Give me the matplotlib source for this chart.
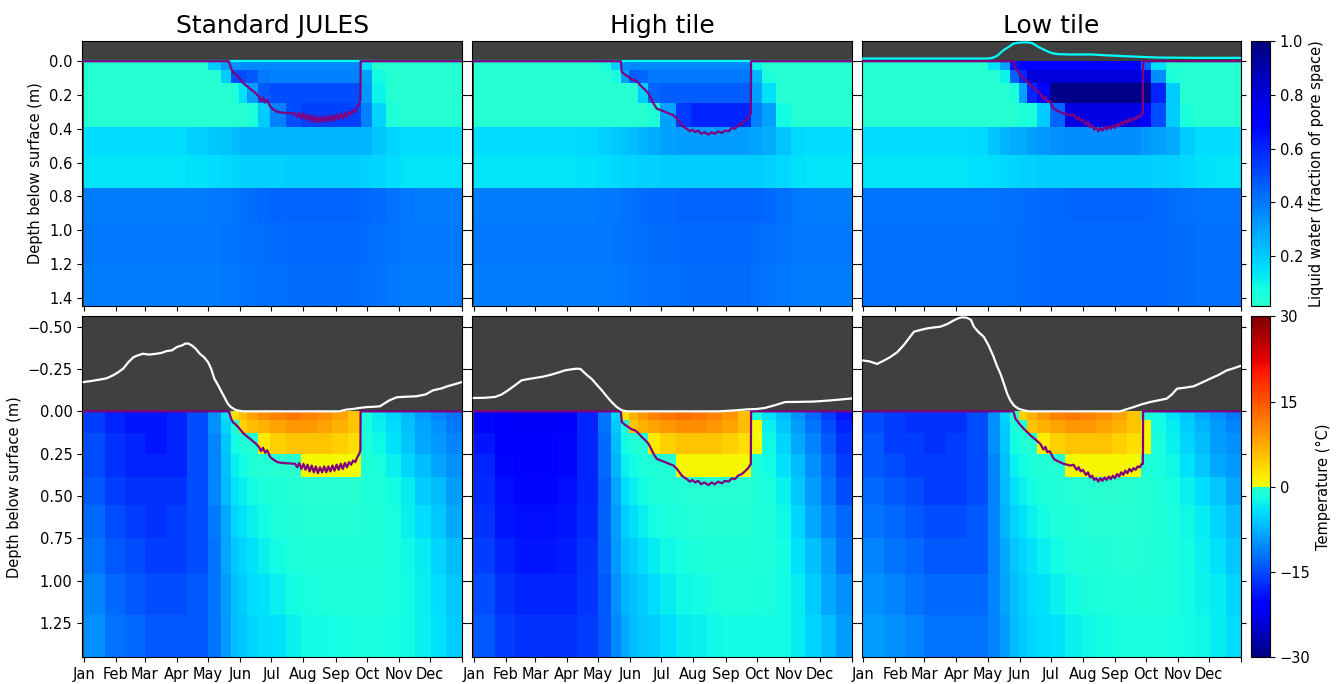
import numpy as np
import matplotlib
matplotlib.use("Agg")
import matplotlib.pyplot as plt
from matplotlib.colors import ListedColormap

# ---------------- data ----------------
TITLES = ["Standard JULES", "High tile", "Low tile"]
MONTH_DAYS = [0, 31, 59, 90, 120, 151, 181, 212, 243, 273, 304, 334, 365]
MONTH_LABELS = ["Jan", "Feb", "Mar", "Apr", "May", "Jun", "Jul", "Aug", "Sep", "Oct", "Nov", "Dec", ""]

# soil layer boundaries (m below surface)
LAYER_EDGES = [0.0, 0.05, 0.13, 0.25, 0.39, 0.555, 0.75, 0.96, 1.2, 1.45]
# time column boundaries (day of year)
DAY_EDGES = [0, 20, 40, 59, 80, 100, 120, 132, 142, 150, 158, 168, 180, 195, 210, 225,
             240, 255, 268, 278, 292, 306, 320, 335, 350, 365]

# liquid water (fraction of pore space), rows = layers, columns = time blocks
water_std = [
    [.02, .02, .02, .02, .02, .02, .20, .30, .34, .36, .36, .36, .36, .36, .36, .36, .36, .36, .16, .03, .02, .02, .02, .02, .02],
    [.02, .02, .02, .02, .02, .02, .02, .20, .50, .50, .48, .40, .38, .38, .38, .38, .38, .38, .30, .08, .02, .02, .02, .02, .02],
    [.02, .02, .02, .02, .02, .02, .02, .02, .04, .15, .31, .48, .50, .50, .50, .50, .50, .50, .32, .10, .02, .02, .02, .02, .02],
    [.02, .02, .02, .02, .02, .02, .02, .02, .02, .03, .05, .20, .38, .50, .53, .53, .53, .53, .38, .18, .04, .02, .02, .02, .02],
    [.16, .16, .16, .16, .16, .19, .21, .22, .24, .25, .25, .25, .26, .26, .26, .26, .26, .26, .25, .22, .18, .16, .16, .16, .16],
    [.14, .14, .14, .14, .14, .15, .16, .17, .18, .19, .19, .19, .19, .20, .20, .20, .20, .20, .19, .18, .16, .14, .14, .14, .14],
    [.39, .39, .39, .39, .39, .39, .40, .40, .41, .42, .43, .44, .45, .45, .45, .45, .45, .45, .44, .43, .41, .40, .39, .39, .39],
    [.40, .40, .40, .40, .40, .40, .40, .41, .41, .42, .42, .43, .43, .44, .44, .44, .44, .44, .43, .42, .41, .40, .40, .40, .40],
    [.39, .39, .39, .39, .39, .39, .39, .40, .40, .41, .41, .42, .42, .43, .43, .43, .43, .43, .42, .41, .40, .39, .39, .39, .39],
]
water_high = [
    [.02, .02, .02, .02, .02, .02, .05, .19, .34, .36, .36, .36, .36, .36, .36, .36, .36, .36, .10, .02, .02, .02, .02, .02, .02],
    [.02, .02, .02, .02, .02, .02, .02, .06, .30, .47, .45, .40, .40, .40, .40, .40, .40, .40, .25, .05, .02, .02, .02, .02, .02],
    [.02, .02, .02, .02, .02, .02, .02, .02, .02, .03, .20, .45, .47, .47, .47, .47, .47, .47, .30, .15, .02, .02, .02, .02, .02],
    [.02, .02, .02, .02, .02, .02, .02, .02, .02, .02, .02, .04, .30, .55, .60, .60, .60, .60, .38, .30, .08, .02, .02, .02, .02],
    [.16, .16, .16, .16, .16, .17, .19, .20, .22, .24, .26, .28, .30, .31, .31, .31, .31, .31, .29, .27, .22, .17, .16, .16, .16],
    [.14, .14, .14, .14, .14, .15, .16, .17, .18, .18, .19, .19, .20, .20, .20, .20, .20, .20, .20, .19, .17, .15, .14, .14, .14],
    [.39, .39, .39, .39, .39, .39, .40, .40, .41, .42, .43, .44, .44, .45, .45, .45, .45, .45, .45, .44, .42, .40, .39, .39, .39],
    [.40, .40, .40, .40, .40, .40, .40, .41, .41, .42, .42, .43, .43, .44, .44, .44, .44, .44, .43, .42, .41, .40, .40, .40, .40],
    [.39, .39, .39, .39, .39, .39, .39, .40, .40, .41, .41, .42, .42, .43, .43, .43, .43, .43, .42, .41, .40, .39, .39, .39, .39],
]
water_low = [
    [.02, .02, .02, .02, .02, .02, .15, .30, .65, .72, .72, .72, .72, .72, .72, .72, .72, .72, .45, .15, .03, .02, .02, .02, .02],
    [.02, .02, .02, .02, .02, .02, .02, .10, .45, .60, .80, .80, .80, .80, .80, .80, .80, .80, .78, .35, .05, .02, .02, .02, .02],
    [.02, .02, .02, .02, .02, .02, .02, .02, .05, .30, .60, .70, .98, .98, .98, .98, .98, .98, .98, .60, .20, .03, .02, .02, .02],
    [.02, .02, .02, .02, .02, .02, .02, .02, .02, .05, .05, .20, .45, .78, .78, .78, .78, .78, .70, .50, .20, .05, .02, .02, .02],
    [.16, .16, .16, .16, .16, .17, .22, .25, .27, .28, .30, .32, .34, .35, .35, .35, .35, .35, .32, .30, .27, .20, .16, .16, .16],
    [.14, .14, .14, .14, .14, .15, .16, .17, .18, .19, .19, .20, .20, .20, .20, .20, .20, .20, .20, .19, .19, .17, .15, .14, .14],
    [.41, .41, .41, .41, .41, .41, .41, .42, .42, .43, .43, .44, .44, .45, .45, .45, .45, .45, .45, .44, .43, .42, .41, .41, .41],
    [.42, .42, .42, .42, .42, .42, .42, .42, .43, .43, .43, .44, .44, .44, .44, .44, .44, .44, .44, .44, .43, .43, .42, .42, .42],
    [.42, .42, .42, .42, .42, .42, .42, .42, .43, .43, .43, .44, .44, .44, .44, .44, .44, .44, .44, .44, .43, .43, .42, .42, .42],
]

# soil temperature (deg C), rows = layers, columns = time blocks
temp_std = [
    [-16, -18, -19, -19, -18, -15, -10, -4, 3, 6, 8, 10, 11, 12, 11, 10, 8, 5, -1.5, -3.5, -5, -7, -9, -11, -12],
    [-16, -18, -19, -19, -18, -15, -10, -5, -1, 4, 6, 7, 8, 9, 9, 8, 7, 5, -1.5, -3, -4.5, -6.5, -8.5, -10, -11.5],
    [-15, -17, -18, -19, -18, -15, -11, -6, -2, -1, -0.5, 2, 4, 5, 5, 5, 4, 3, -1.2, -2.5, -4, -6, -8, -9.5, -11],
    [-15, -17, -18, -18, -18, -15, -11, -6.5, -3, -2, -1, -0.6, -0.4, -0.2, 0.5, 0.5, 0.5, 0.3, -0.8, -1.5, -3, -5, -7, -8.5, -10],
    [-14, -16, -17, -17, -17, -15, -11, -7, -4, -3, -2, -1.2, -0.8, -0.5, -0.3, -0.3, -0.3, -0.4, -0.8, -1.2, -2, -3.5, -5.5, -7, -9],
    [-13, -15, -16, -17, -16, -15, -11.5, -8, -5, -4, -3, -2, -1.3, -0.9, -0.6, -0.5, -0.5, -0.5, -0.8, -1, -1.8, -3, -4.5, -6, -8],
    [-12, -14, -15, -16, -16, -15, -12, -8.5, -6, -5, -4, -3, -2, -1.4, -1, -0.8, -0.8, -0.8, -0.9, -1, -1.5, -2.5, -3.5, -5, -7],
    [-11, -13, -14, -15, -15, -14, -12, -9, -6.5, -5.5, -4.5, -4, -3, -2, -1.5, -1.3, -1.2, -1.2, -1.2, -1.3, -1.6, -2.2, -3, -4.5, -6],
    [-10, -12, -13, -14, -14, -14, -12, -9.5, -7, -6, -5, -4.5, -4, -3, -2.2, -2, -1.8, -1.7, -1.6, -1.6, -1.8, -2.2, -3, -4, -5.5],
]
temp_high = [
    [-20, -21.5, -22, -22, -21, -18, -12, -5, 3, 7, 9, 11, 12, 13, 12, 11, 9, 6, -1.5, -4, -7, -10, -13, -16, -19],
    [-20, -21.5, -22, -22, -21, -18, -12, -6, -1, 5, 7, 8, 9, 10, 10, 9, 8, 6, 1, -3, -6, -9, -12, -15, -18],
    [-19, -21, -21, -21, -20, -18, -13, -7, -2, -1, -0.5, 2, 4, 5, 5, 5, 4, 3, 0.5, -2.5, -5, -8, -11, -14, -17],
    [-18, -20, -21, -21, -20, -18, -13, -7.5, -3, -2, -1.2, -0.8, -0.5, 0.8, 1, 1, 1, 0.6, -1, -2, -4, -7, -10, -13, -16],
    [-17.5, -19.5, -20, -20, -19.5, -18, -13.5, -8.5, -4.5, -3, -2, -1.3, -0.8, -0.5, -0.3, -0.3, -0.3, -0.4, -0.8, -1.5, -3, -6, -9, -12, -15],
    [-17, -19, -19.5, -19.5, -19, -17.5, -13.5, -9, -5.5, -4.5, -3, -2, -1.5, -1, -0.6, -0.5, -0.5, -0.6, -0.8, -1.2, -2.5, -5, -8, -11, -13],
    [-16, -18, -19, -19, -18.5, -17, -13.5, -9.5, -6.5, -5.5, -4.5, -3.5, -2.5, -1.8, -1.2, -1, -0.9, -0.9, -1, -1.2, -2, -4, -6.5, -9, -12],
    [-15, -17, -18, -18, -18, -16.5, -14, -10, -7.5, -6.5, -5.5, -4.5, -3.5, -2.5, -2, -1.6, -1.4, -1.3, -1.3, -1.5, -2, -3.5, -5.5, -8, -10],
    [-14, -16, -17, -17, -17, -16, -14, -10.5, -8, -7, -6, -5.5, -4.5, -3.5, -3, -2.5, -2.2, -2, -1.9, -2, -2.3, -3.5, -5, -7, -9],
]
temp_low = [
    [-15, -16, -17, -17, -17, -15, -10, -5, -0.5, 4, 7, 9, 11, 12, 11, 10, 8, 5, -0.5, -2, -4, -6, -8, -10, -11.5],
    [-15, -16, -17, -17, -17, -15, -10, -5.5, -1.5, -0.5, 5, 7, 8, 9, 9, 8, 7, 5, 1, -2, -3.5, -5.5, -7.5, -9.5, -11],
    [-14, -16, -16, -17, -16, -15, -10, -6, -2, -1, -0.7, 1.5, 4, 5, 5, 5, 4, 3, 0.5, -1.5, -3, -5, -7, -9, -10],
    [-14, -15, -16, -16, -16, -15, -11, -6.5, -3, -2, -1.2, -0.8, -0.5, 0.5, 1, 1, 1, 0.6, -0.8, -1.5, -2.5, -4, -6, -8, -9.5],
    [-13, -14, -15, -16, -16, -15, -11, -7, -4, -3, -2, -1.2, -0.8, -0.5, -0.3, -0.2, -0.2, -0.3, -0.6, -1, -1.8, -3, -4.5, -6, -8],
    [-12, -13, -14, -15, -15, -14, -11, -7.5, -5, -4, -3, -2, -1.3, -0.9, -0.6, -0.4, -0.4, -0.5, -0.7, -0.9, -1.5, -2.5, -3.5, -5, -7],
    [-11, -12, -13, -14, -14, -14, -11, -8, -6, -5, -4, -3, -2, -1.4, -1, -0.8, -0.7, -0.7, -0.8, -1, -1.3, -2, -3, -4, -6],
    [-10, -11, -12, -13, -13, -13, -11, -8.5, -6.5, -5.5, -4.5, -4, -3, -2.2, -1.6, -1.3, -1.2, -1.1, -1.1, -1.2, -1.4, -2, -2.6, -3.5, -5],
    [-9, -10, -11, -12, -12, -12, -11, -9, -7, -6, -5, -4.5, -4, -3, -2.4, -2, -1.8, -1.6, -1.5, -1.5, -1.7, -2, -2.5, -3.3, -4.5],
]

# thaw depth (m)
thaw_std_day = [0, 140, 142, 144, 147, 150, 154, 158, 162, 166, 169, 171, 173, 175, 177, 180, 183, 187, 192, 198,
                204, 206, 208, 210, 212, 214, 216, 218, 220, 222, 224, 226, 228, 230, 232, 234, 236, 238, 240, 242,
                244, 246, 248, 250, 252, 254, 256, 258, 260, 262, 264, 266, 267, 267.2, 365]
thaw_std_depth = [0, 0, 0.04, 0.065, 0.08, 0.10, 0.13, 0.15, 0.17, 0.19, 0.21, 0.235, 0.215, 0.245, 0.23, 0.27, 0.285, 0.30, 0.305, 0.307,
                  0.31, 0.33, 0.305, 0.34, 0.31, 0.345, 0.315, 0.355, 0.32, 0.36, 0.325, 0.365, 0.33, 0.36, 0.325, 0.36, 0.325, 0.355, 0.32, 0.35,
                  0.315, 0.345, 0.31, 0.34, 0.305, 0.33, 0.30, 0.315, 0.29, 0.30, 0.27, 0.25, 0.23, 0, 0]
thaw_high_day = [0, 141.9, 142.8, 146, 149.3, 152, 155.7, 159, 162.2, 165.5, 168.6, 171, 173.5, 176.6, 180.5, 184.7, 188.5, 192.7, 196, 198.5,
                 200.8, 203, 205.6, 208.5, 211, 213.6, 216.5, 219.5, 222.5, 226.5, 229.5, 232.5, 236, 239.4, 242.5, 246, 249, 252, 255, 258.7,
                 261.5, 265, 267.4, 267.6, 365]
thaw_high_depth = [0, 0, 0.063, 0.08, 0.093, 0.105, 0.113, 0.13, 0.152, 0.17, 0.192, 0.22, 0.251, 0.281, 0.29, 0.30, 0.31, 0.32, 0.34, 0.36,
                   0.38, 0.39, 0.40, 0.415, 0.405, 0.42, 0.41, 0.43, 0.42, 0.435, 0.42, 0.43, 0.415, 0.425, 0.41, 0.415, 0.395, 0.40, 0.38, 0.37,
                   0.355, 0.334, 0.31, 0, 0]
thaw_low_day = [0, 145, 147, 151, 155, 158, 161.5, 166, 171, 174, 176, 177.6, 180, 184, 188, 193.6, 200, 203, 206, 208,
                210, 212, 215, 217, 219, 221, 223, 225, 227, 229, 231, 233, 235, 237, 239, 241, 243, 245, 247, 249,
                251, 253, 255, 257, 259, 261, 263, 265, 267, 269, 270, 270.2, 365]
thaw_low_depth = [0, 0, 0.044, 0.075, 0.103, 0.12, 0.142, 0.165, 0.192, 0.225, 0.21, 0.241, 0.235, 0.281, 0.295, 0.31, 0.32, 0.315, 0.345, 0.33,
                  0.355, 0.345, 0.375, 0.36, 0.39, 0.38, 0.405, 0.395, 0.415, 0.395, 0.41, 0.39, 0.405, 0.385, 0.40, 0.38, 0.395, 0.37, 0.385, 0.36,
                  0.375, 0.35, 0.365, 0.34, 0.355, 0.335, 0.345, 0.325, 0.33, 0.31, 0.31, 0, 0]

# snow depth (plotted as negative depth, m)
snow_std_day = [0, 8, 15, 22, 28, 33, 38, 43, 48, 52, 57, 63, 70, 75, 80, 85, 90, 95, 98, 101,
                104, 108, 112, 116, 120, 123, 126, 130, 133, 136, 139, 142, 146, 150, 154, 200, 247, 253, 260, 266,
                273, 280, 286, 291, 295, 302, 310, 321, 330, 337, 345, 352, 358, 365]
snow_std_depth = [-0.173, -0.18, -0.187, -0.195, -0.212, -0.23, -0.252, -0.29, -0.32, -0.33, -0.34, -0.335, -0.34, -0.345, -0.356, -0.36, -0.38, -0.39, -0.40, -0.40,
                  -0.39, -0.37, -0.34, -0.32, -0.29, -0.25, -0.193, -0.15, -0.114, -0.08, -0.045, -0.025, -0.01, -0.003, 0, 0, 0, -0.01, -0.014, -0.02,
                  -0.025, -0.027, -0.03, -0.05, -0.065, -0.083, -0.086, -0.089, -0.10, -0.124, -0.135, -0.15, -0.16, -0.173]
snow_high_day = [0, 10, 20.5, 27, 33, 40, 46, 52, 59, 67, 75, 82, 88, 94, 99.4, 103, 106, 110, 114, 119,
                 123.6, 128, 133, 138, 143, 148, 200, 237, 250, 265, 273, 281, 290, 300.5, 315, 329, 345, 363, 365]
snow_high_depth = [-0.079, -0.08, -0.085, -0.10, -0.124, -0.155, -0.183, -0.19, -0.197, -0.205, -0.217, -0.23, -0.242, -0.248, -0.252, -0.25, -0.232, -0.21, -0.19, -0.155,
                   -0.124, -0.09, -0.055, -0.025, -0.006, 0, 0, 0, -0.005, -0.012, -0.014, -0.02, -0.035, -0.055, -0.056, -0.058, -0.065, -0.075, -0.076]
snow_low_day = [0, 6, 13.5, 20, 26, 33, 39, 44, 49, 55, 62, 68, 74.6, 81, 87.5, 92, 95, 100, 104, 106.8,
                111, 116.4, 121, 126, 129, 132.5, 136, 139, 142, 145.4, 150, 155, 160, 200, 248, 254, 261, 268, 277, 285,
                293, 298, 303, 311, 319, 327, 335, 343, 351, 358, 365]
snow_low_depth = [-0.30, -0.295, -0.28, -0.30, -0.32, -0.35, -0.39, -0.43, -0.47, -0.48, -0.49, -0.495, -0.50, -0.515, -0.537, -0.55, -0.555, -0.553, -0.54, -0.50,
                  -0.47, -0.44, -0.39, -0.32, -0.27, -0.222, -0.16, -0.104, -0.065, -0.035, -0.015, -0.006, 0, 0, 0, -0.012, -0.025, -0.04, -0.055, -0.065,
                  -0.075, -0.10, -0.134, -0.14, -0.148, -0.17, -0.193, -0.215, -0.242, -0.255, -0.27]

# water table (negative = ponded above surface, m)
wt_std_day = [0, 365]
wt_std_depth = [0.0, 0.0]
wt_high_day = [0, 365]
wt_high_depth = [0.0, 0.0]
wt_low_day = [0, 120, 125, 130, 132.5, 136, 140.6, 145, 150, 155, 160, 163, 166, 169, 174, 179, 183, 188, 200, 220,
              235, 252, 268, 284, 320, 365]
wt_low_depth = [-0.016, -0.016, -0.02, -0.035, -0.05, -0.068, -0.085, -0.105, -0.11, -0.112, -0.111, -0.108, -0.097, -0.085, -0.07, -0.055, -0.047, -0.042, -0.04, -0.04,
                -0.035, -0.03, -0.026, -0.022, -0.02, -0.02]

# ---------------- figure ----------------
plt.rcParams["font.family"] = ["DejaVu Sans"]
fig = plt.figure(figsize=(13.44, 6.84), dpi=100)

jet = plt.get_cmap("jet")
water_cmap = ListedColormap(jet(np.linspace(0.4, 0.0, 256)))
temp_cmap = ListedColormap(np.vstack([jet(np.linspace(0.0, 0.4, 128)),
                                      jet(np.linspace(0.64, 1.0, 128))]))

panels = [
    (water_std, temp_std, thaw_std_day, thaw_std_depth, snow_std_day, snow_std_depth, wt_std_day, wt_std_depth),
    (water_high, temp_high, thaw_high_day, thaw_high_depth, snow_high_day, snow_high_depth, wt_high_day, wt_high_depth),
    (water_low, temp_low, thaw_low_day, thaw_low_depth, snow_low_day, snow_low_depth, wt_low_day, wt_low_depth),
]

col_x = [0.0612, 0.3514, 0.6411]
ax_w = 0.2825
top_y, top_h = 0.5526, 0.3875
bot_y, bot_h = 0.0395, 0.4978
GRAY = "#404040"
PURPLE = "#800080"
FS = 10.5

for i, (W, T, td, tz, sd, sz, wd, wz) in enumerate(panels):
    # --- liquid water panel ---
    ax = fig.add_axes([col_x[i], top_y, ax_w, top_h])
    ax.set_facecolor(GRAY)
    mw = ax.pcolormesh(DAY_EDGES, LAYER_EDGES, np.array(W), cmap=water_cmap,
                       vmin=0.015, vmax=1.0, shading="flat")
    ax.plot(wd, wz, color="cyan", lw=1.6, zorder=3)
    ax.plot(td, tz, color=PURPLE, lw=1.6, zorder=4)
    ax.set_xlim(-1.5, 365)
    ax.set_ylim(1.45, -0.12)
    ax.set_yticks([0.0, 0.2, 0.4, 0.6, 0.8, 1.0, 1.2, 1.4])
    ax.set_xticks(MONTH_DAYS)
    ax.tick_params(axis="x", labelbottom=False, direction="out")
    ax.tick_params(axis="y", left=True, right=True, direction="out", labelsize=FS,
                   labelleft=(i == 0))
    ax.set_title(TITLES[i], fontsize=18)
    if i == 0:
        ax.set_ylabel("Depth below surface (m)", fontsize=FS)

    # --- temperature panel ---
    bx = fig.add_axes([col_x[i], bot_y, ax_w, bot_h])
    bx.set_facecolor(GRAY)
    mt = bx.pcolormesh(DAY_EDGES, LAYER_EDGES, np.array(T), cmap=temp_cmap,
                       vmin=-30, vmax=30, shading="flat")
    bx.plot(td, tz, color=PURPLE, lw=1.6, zorder=4)
    bx.plot(sd, sz, color="white", lw=1.6, zorder=5)
    bx.set_xlim(-1.5, 365)
    bx.set_ylim(1.45, -0.56)
    bx.set_yticks([-0.5, -0.25, 0.0, 0.25, 0.5, 0.75, 1.0, 1.25])
    bx.set_xticks(MONTH_DAYS)
    bx.set_xticklabels(MONTH_LABELS)
    bx.tick_params(axis="x", labelsize=FS, direction="out")
    bx.tick_params(axis="y", left=True, right=True, direction="out", labelsize=FS,
                   labelleft=(i == 0))
    if i == 0:
        bx.set_ylabel("Depth below surface (m)", fontsize=FS)

cax1 = fig.add_axes([0.9308, top_y, 0.0141, top_h])
cb1 = fig.colorbar(mw, cax=cax1, ticks=[0.2, 0.4, 0.6, 0.8, 1.0])
cb1.set_label("Liquid water (fraction of pore space)", fontsize=FS)
cb1.ax.tick_params(labelsize=FS)

cax2 = fig.add_axes([0.9308, bot_y, 0.0141, bot_h])
cb2 = fig.colorbar(mt, cax=cax2, ticks=[-30, -15, 0, 15, 30])
cb2.set_label("Temperature (°C)", fontsize=FS)
cb2.ax.tick_params(labelsize=FS)

fig.savefig("out.png", dpi=100)
